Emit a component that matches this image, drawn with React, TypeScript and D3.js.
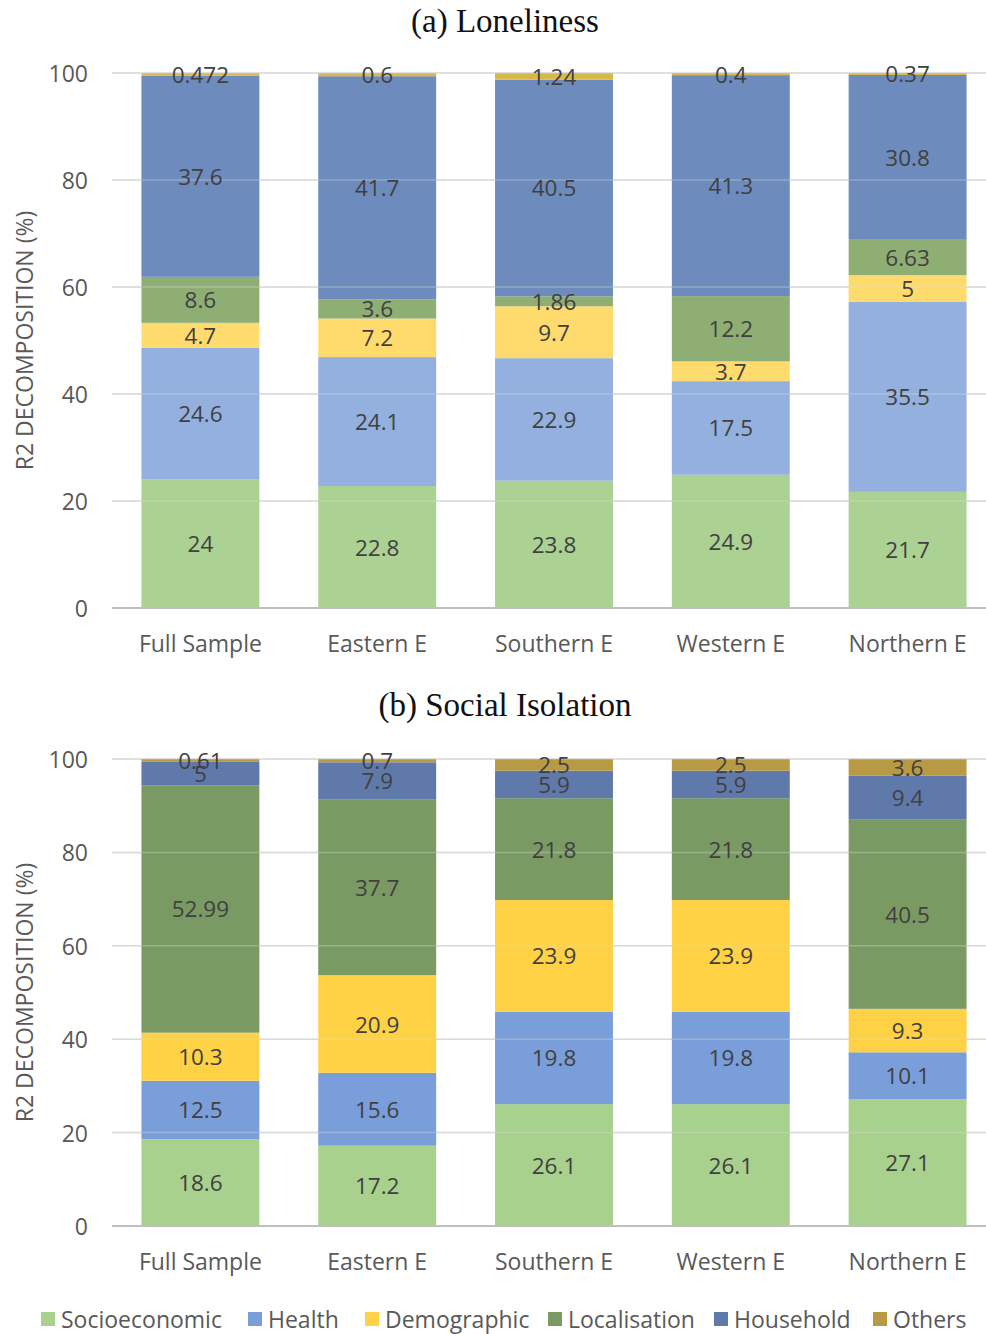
import React from "react";
import * as d3 from "d3";

const categories = ["Full Sample", "Eastern E", "Southern E", "Western E", "Northern E"];
const seriesNames = ["Socioeconomic", "Health", "Demographic", "Localisation", "Household", "Others"];

// (a) Loneliness
const lonSocio = [24, 22.8, 23.8, 24.9, 21.7];
const lonHealth = [24.6, 24.1, 22.9, 17.5, 35.5];
const lonDemo = [4.7, 7.2, 9.7, 3.7, 5];
const lonLocal = [8.6, 3.6, 1.86, 12.2, 6.63];
const lonHouse = [37.6, 41.7, 40.5, 41.3, 30.8];
const lonOthers = [0.472, 0.6, 1.24, 0.4, 0.37];

// (b) Social Isolation
const isoSocio = [18.6, 17.2, 26.1, 26.1, 27.1];
const isoHealth = [12.5, 15.6, 19.8, 19.8, 10.1];
const isoDemo = [10.3, 20.9, 23.9, 23.9, 9.3];
const isoLocal = [52.99, 37.7, 21.8, 21.8, 40.5];
const isoHouse = [5, 7.9, 5.9, 5.9, 9.4];
const isoOthers = [0.61, 0.7, 2.5, 2.5, 3.6];

const yTicks = [0, 20, 40, 60, 80, 100];

const colorsTop = ["#abd193", "#94b0de", "#ffdb6e", "#8eae73", "#6d8bbd", "#d9b84a"];
const colorsBottom = ["#a9d18e", "#7a9ed9", "#ffd246", "#7a9a64", "#5f7aaa", "#b89a44"];

const FONT = "'Open Sans', Lato, sans-serif";
const TXT = "#595959";
const LBL = "#404040";

type PanelProps = {
  title: string;
  titleY: number;
  yTop: number;
  yBottom: number;
  series: number[][];
  colors: string[];
};

function Panel({ title, titleY, yTop, yBottom, series, colors }: PanelProps) {
  const x = d3.scaleBand<string>().domain(categories).range([112, 996]).paddingInner(0.333).paddingOuter(0.1665);
  const y = d3.scaleLinear().domain([0, 100]).range([yBottom, yTop]);
  const rows = categories.map((c, i) => {
    const r: any = { cat: c };
    seriesNames.forEach((s, k) => (r[s] = series[k][i]));
    return r;
  });
  const stacked = d3.stack<any>().keys(seriesNames)(rows);
  const midY = (yTop + yBottom) / 2;
  return (
    <g>
      <text x={505} y={titleY} textAnchor="middle" fontFamily="'Liberation Serif', 'DejaVu Serif', serif" fontSize={33} fill="#111">
        {title}
      </text>
      {yTicks.map((t) => (
        <g key={t}>
          {t > 0 && <line x1={112} x2={986} y1={y(t)} y2={y(t)} stroke="#d9d9d9" strokeWidth={1.5} />}
          <text x={88} y={y(t)} textAnchor="end" dominantBaseline="central" fontFamily={FONT} fontSize={23} fill={TXT}>
            {t}
          </text>
        </g>
      ))}
      {stacked.map((layer, k) => (
        <g key={layer.key}>
          {layer.map((d, i) => (
            <rect
              key={i}
              x={x(categories[i])}
              width={x.bandwidth()}
              y={y(d[1])}
              height={y(d[0]) - y(d[1])}
              fill={colors[k]}
            />
          ))}
        </g>
      ))}
      {yTicks.filter((t) => t > 0).map((t) => (
        <line key={"g" + t} x1={112} x2={986} y1={y(t)} y2={y(t)} stroke="#d9d9d9" strokeWidth={1.5} strokeOpacity={0.35} />
      ))}
      <line x1={112} x2={986} y1={yBottom} y2={yBottom} stroke="#bfbfbf" strokeWidth={2} />
      {stacked.map((layer, k) => (
        <g key={"l" + layer.key}>
          {layer.map((d, i) => (
            <text
              key={i}
              x={(x(categories[i]) as number) + x.bandwidth() / 2}
              y={y((d[0] + d[1]) / 2)}
              textAnchor="middle"
              dominantBaseline="central"
              fontFamily={FONT}
              fontSize={22.5}
              fill={LBL}
            >
              {series[k][i]}
            </text>
          ))}
        </g>
      ))}
      {categories.map((c) => (
        <text
          key={c}
          x={(x(c) as number) + x.bandwidth() / 2}
          y={yBottom + 35}
          textAnchor="middle"
          dominantBaseline="central"
          fontFamily={FONT}
          fontSize={23}
          fill={TXT}
        >
          {c}
        </text>
      ))}
      <text
        transform={`translate(24, ${midY}) rotate(-90)`}
        textAnchor="middle"
        dominantBaseline="central"
        fontFamily={FONT}
        fontSize={23}
        fill={TXT}
      >
        R2 DECOMPOSITION (%)
      </text>
    </g>
  );
}

const legendX = [41, 248, 365, 548, 714, 873];

export default function App() {
  return (
    <svg width={986} height={1334} style={{ position: "absolute", left: 0, top: 0, background: "#fff" }}>
      <Panel
        title="(a) Loneliness"
        titleY={32}
        yTop={73}
        yBottom={608}
        series={[lonSocio, lonHealth, lonDemo, lonLocal, lonHouse, lonOthers]}
        colors={colorsTop}
      />
      <Panel
        title="(b) Social Isolation"
        titleY={716}
        yTop={759}
        yBottom={1226}
        series={[isoSocio, isoHealth, isoDemo, isoLocal, isoHouse, isoOthers]}
        colors={colorsBottom}
      />
      {seriesNames.map((s, k) => (
        <g key={s}>
          <rect x={legendX[k]} y={1312} width={14} height={14} fill={colorsBottom[k]} />
          <text x={legendX[k] + 20} y={1319} dominantBaseline="central" fontFamily={FONT} fontSize={23} fill={TXT}>
            {s}
          </text>
        </g>
      ))}
    </svg>
  );
}
